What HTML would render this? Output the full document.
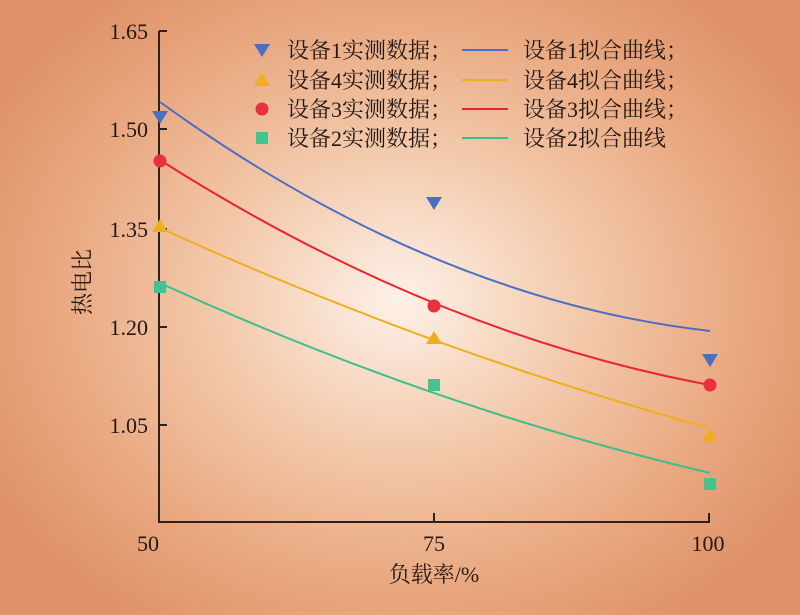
<!DOCTYPE html>
<html><head><meta charset="utf-8"><style>
html,body{margin:0;padding:0}
body{width:800px;height:610px;overflow:hidden;background:radial-gradient(ellipse 460px 380px at 400px 300px,#fdf1e8 0%,#f3c9ab 40%,#e9a880 75%,#e0936a 100%)}
text{font-family:"Liberation Serif","Noto Serif CJK SC",serif;fill:#231815}
</style></head><body>
<svg width="800" height="610" xmlns="http://www.w3.org/2000/svg">
<g stroke="#2b2220" stroke-width="2" fill="none">
<path d="M159,31 V522 H710"/>
<path d="M159,31 h8 M159,129 h8 M159,229 h8 M159,327 h8 M159,425 h8"/>
<path d="M434,522 v-9 M709,522 v-9"/>
</g>
<g font-size="22" text-anchor="end">
<text x="148" y="39">1.65</text><text x="148" y="137">1.50</text><text x="148" y="237">1.35</text><text x="148" y="335">1.20</text><text x="148" y="433">1.05</text>
</g>
<g font-size="22" text-anchor="middle">
<text x="148" y="551">50</text><text x="434" y="551">75</text><text x="708" y="551">100</text>
<text x="434" y="582">负载率/%</text>
<text transform="translate(90,282) rotate(-90)">热电比</text>
</g>
<g fill="none" stroke-width="2">
<path d="M160,102 Q433,299.5 710,331" stroke="#4a6fc2"/>
<path d="M160,160 Q433,333.5 710,385" stroke="#e8242f"/>
<path d="M160,228 Q433,352 710,428" stroke="#f0ad1c"/>
<path d="M160,283 Q433,408 710,473" stroke="#3cbf8a"/>
</g>
<g fill="#4a6fc2"><path d="M152,111h16l-8,13z"/><path d="M426,197h16l-8,13z"/><path d="M702,354h16l-8,13z"/></g>
<g fill="#f0ad1c"><path d="M152,232h16l-8,-13z"/><path d="M426,344h16l-8,-13z"/><path d="M702,442h16l-8,-13z"/></g>
<g fill="#e8303f"><circle cx="160" cy="161" r="6.5"/><circle cx="434" cy="306" r="6.5"/><circle cx="710" cy="385" r="6.5"/></g>
<g fill="#45c38e"><rect x="154" y="281" width="12" height="12"/><rect x="428" y="379" width="12" height="12"/><rect x="704" y="478" width="12" height="12"/></g>
<path d="M254,44h16l-8,13z" fill="#4a6fc2"/>
<path d="M254,86h16l-8,-13z" fill="#f0ad1c"/>
<circle cx="262" cy="109" r="6.5" fill="#e8303f"/>
<rect x="256" y="132" width="12" height="12" fill="#45c38e"/>
<g font-size="22">
<text x="287" y="58">设备1实测数据；</text>
<text x="287" y="88">设备4实测数据；</text>
<text x="287" y="117">设备3实测数据；</text>
<text x="287" y="146">设备2实测数据；</text>
<text x="523" y="58">设备1拟合曲线；</text>
<text x="523" y="88">设备4拟合曲线；</text>
<text x="523" y="117">设备3拟合曲线；</text>
<text x="523" y="146">设备2拟合曲线</text>
</g>
<g stroke-width="2">
<path d="M462,50h46" stroke="#4a6fc2"/><path d="M462,80h46" stroke="#f0ad1c"/><path d="M462,109h46" stroke="#e8242f"/><path d="M462,138h46" stroke="#3cbf8a"/>
</g>
</svg>
</body></html>
